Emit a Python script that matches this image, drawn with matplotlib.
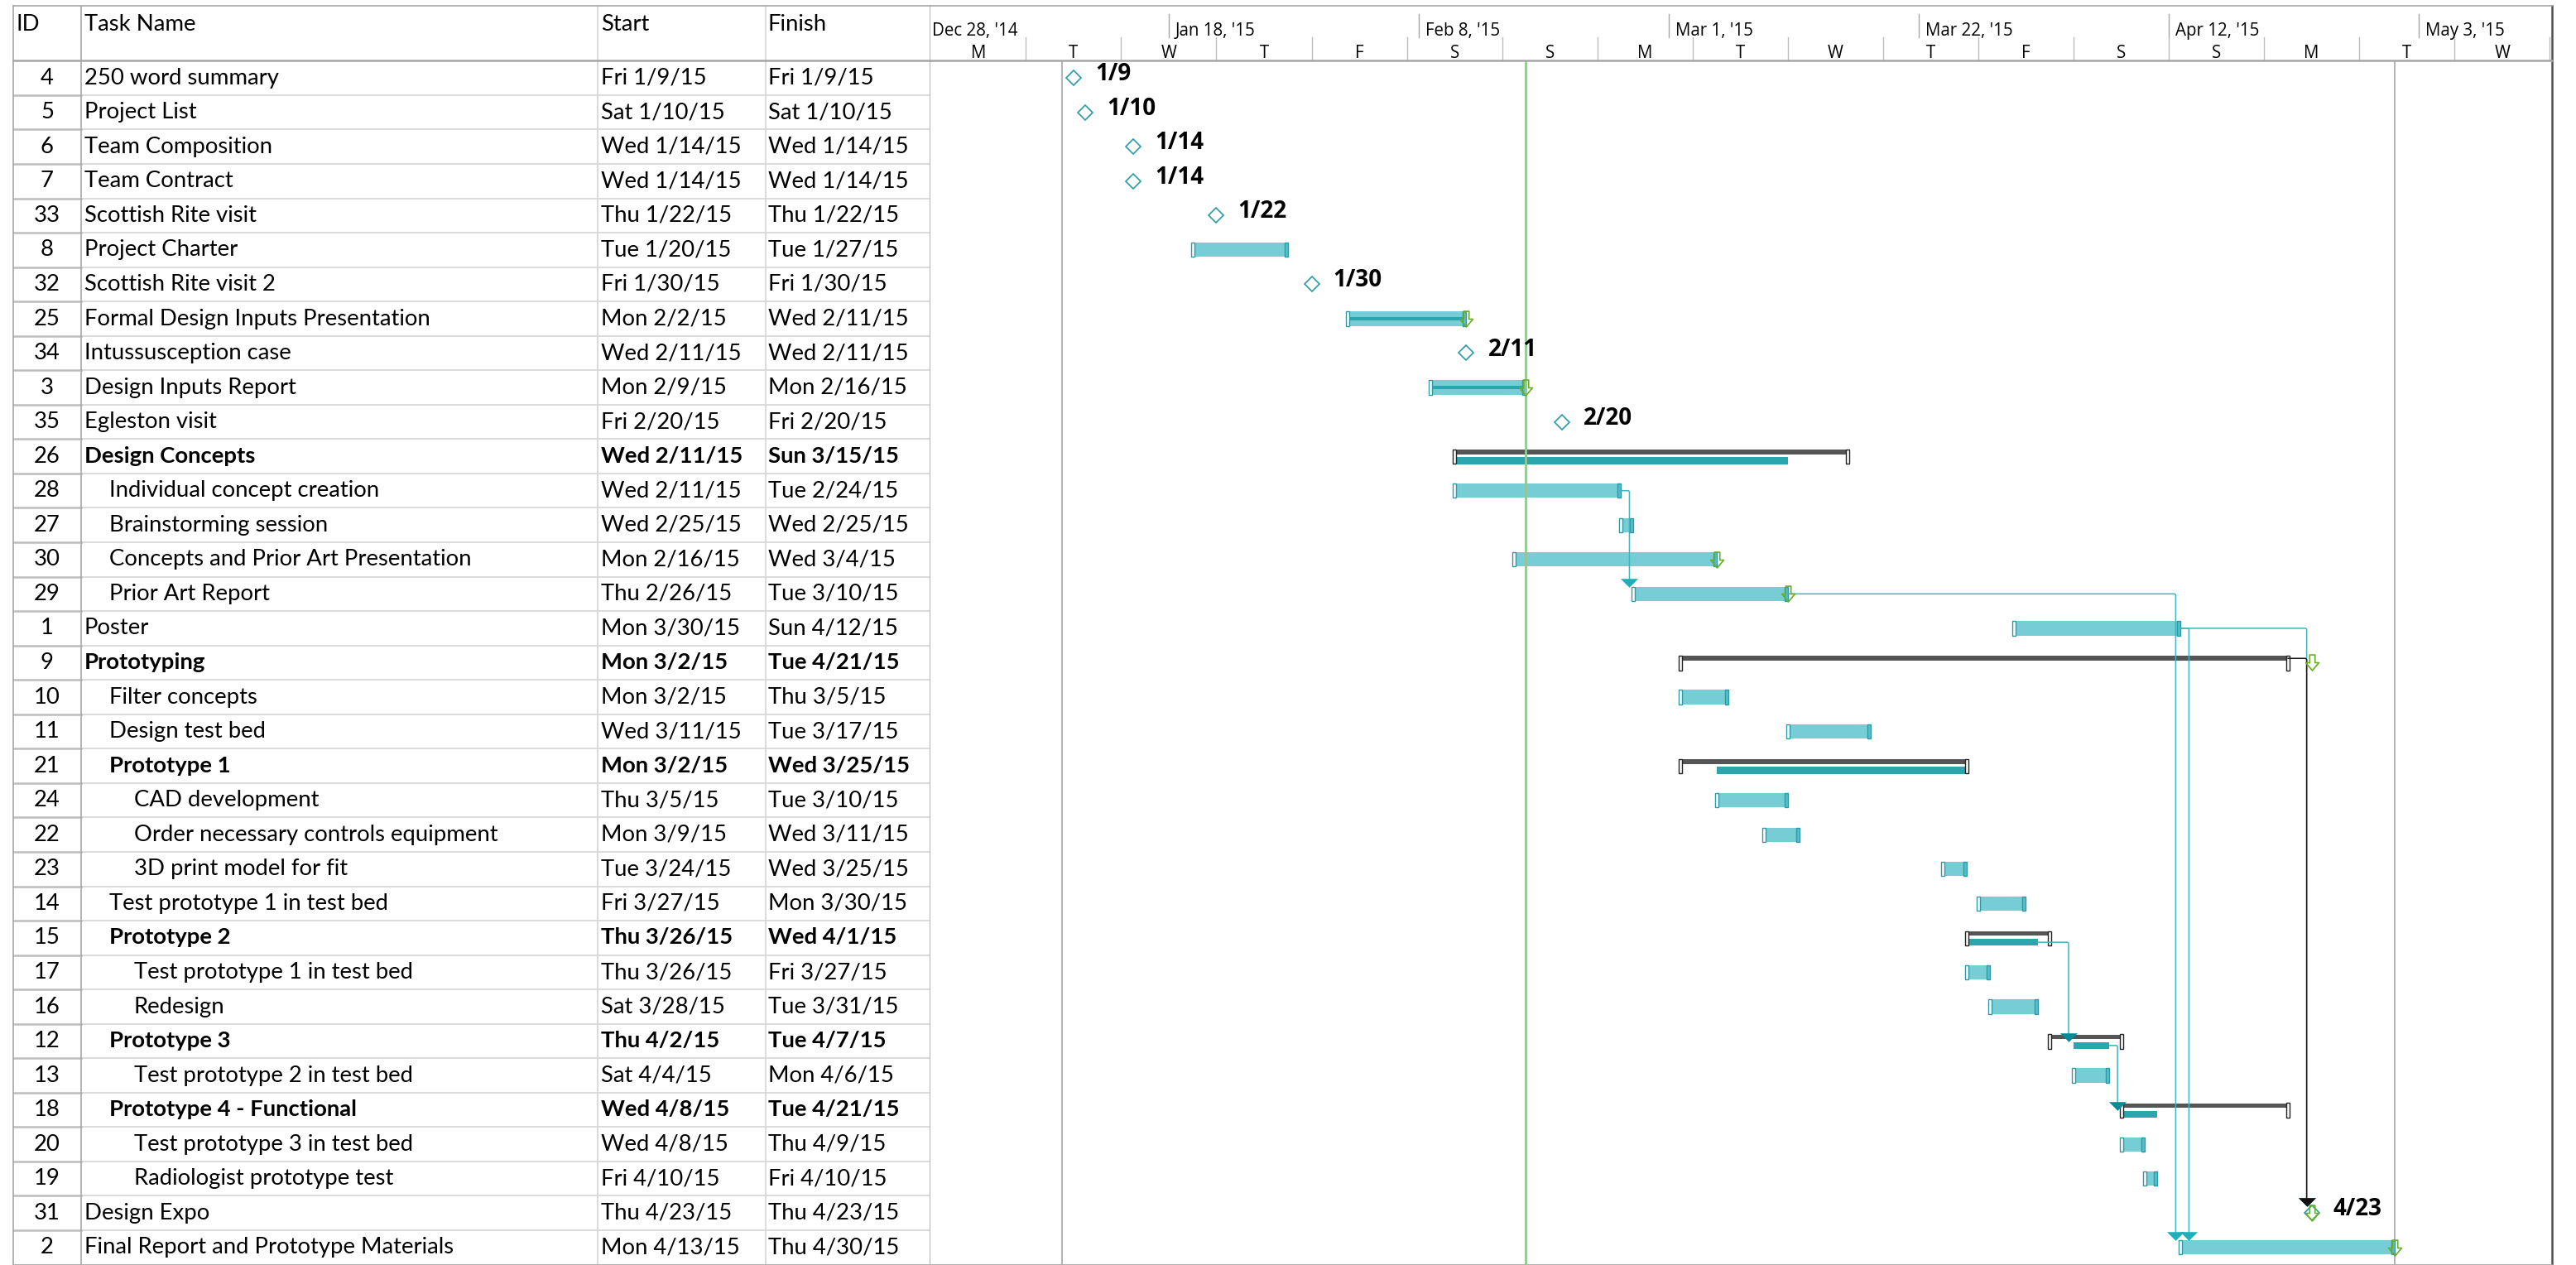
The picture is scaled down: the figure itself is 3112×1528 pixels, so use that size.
import datetime as dt

import matplotlib
matplotlib.use("Agg")
from matplotlib import pyplot as plt
import matplotlib.dates as mdates
from matplotlib.patches import FancyArrowPatch
from matplotlib.path import Path

# ---- task table (as shown in the view) ----
ids = [4, 5, 6, 7, 33, 8, 32, 25, 34, 3, 35, 26, 28, 27, 30, 29, 1, 9, 10, 11,
       21, 24, 22, 23, 14, 15, 17, 16, 12, 13, 18, 20, 19, 31, 2]
names = ["250 word summary", "Project List", "Team Composition", "Team Contract",
         "Scottish Rite visit", "Project Charter", "Scottish Rite visit 2",
         "Formal Design Inputs Presentation", "Intussusception case",
         "Design Inputs Report", "Egleston visit", "Design Concepts",
         "Individual concept creation", "Brainstorming session",
         "Concepts and Prior Art Presentation", "Prior Art Report", "Poster",
         "Prototyping", "Filter concepts", "Design test bed", "Prototype 1",
         "CAD development", "Order necessary controls equipment",
         "3D print model for fit", "Test prototype 1 in test bed", "Prototype 2",
         "Test prototype 1 in test bed", "Redesign", "Prototype 3",
         "Test prototype 2 in test bed", "Prototype 4 - Functional",
         "Test prototype 3 in test bed", "Radiologist prototype test",
         "Design Expo", "Final Report and Prototype Materials"]
levels = [0, 0, 0, 0, 0, 0, 0, 0, 0, 0, 0,
          0, 1, 1, 1, 1, 0,
          0, 1, 1, 1, 2, 2, 2, 1, 1, 2, 2, 1, 2, 1, 2, 2,
          0, 0]
starts = ["Fri 1/9/15", "Sat 1/10/15", "Wed 1/14/15", "Wed 1/14/15", "Thu 1/22/15",
          "Tue 1/20/15", "Fri 1/30/15", "Mon 2/2/15", "Wed 2/11/15", "Mon 2/9/15",
          "Fri 2/20/15", "Wed 2/11/15", "Wed 2/11/15", "Wed 2/25/15", "Mon 2/16/15",
          "Thu 2/26/15", "Mon 3/30/15", "Mon 3/2/15", "Mon 3/2/15", "Wed 3/11/15",
          "Mon 3/2/15", "Thu 3/5/15", "Mon 3/9/15", "Tue 3/24/15", "Fri 3/27/15",
          "Thu 3/26/15", "Thu 3/26/15", "Sat 3/28/15", "Thu 4/2/15", "Sat 4/4/15",
          "Wed 4/8/15", "Wed 4/8/15", "Fri 4/10/15", "Thu 4/23/15", "Mon 4/13/15"]
finishes = ["Fri 1/9/15", "Sat 1/10/15", "Wed 1/14/15", "Wed 1/14/15", "Thu 1/22/15",
            "Tue 1/27/15", "Fri 1/30/15", "Wed 2/11/15", "Wed 2/11/15", "Mon 2/16/15",
            "Fri 2/20/15", "Sun 3/15/15", "Tue 2/24/15", "Wed 2/25/15", "Wed 3/4/15",
            "Tue 3/10/15", "Sun 4/12/15", "Tue 4/21/15", "Thu 3/5/15", "Tue 3/17/15",
            "Wed 3/25/15", "Tue 3/10/15", "Wed 3/11/15", "Wed 3/25/15", "Mon 3/30/15",
            "Wed 4/1/15", "Fri 3/27/15", "Tue 3/31/15", "Tue 4/7/15", "Mon 4/6/15",
            "Tue 4/21/15", "Thu 4/9/15", "Fri 4/10/15", "Thu 4/23/15", "Thu 4/30/15"]

# milestone rows -> where the diamond sits on the timeline
milestone_marks = {0: "1/10/15", 1: "1/11/15", 2: "1/15/15", 3: "1/15/15",
                   4: "1/22/15", 6: "1/30/15", 8: "2/12/15", 10: "2/20/15",
                   33: "4/24/15"}
# deadlines (green arrows), drawn at end of the day
deadlines = {7: "2/11/15", 9: "2/16/15", 14: "3/4/15", 15: "3/10/15",
             17: "4/23/15", 33: "4/23/15", 34: "4/30/15"}
pct_complete = {7: 100, 9: 100}
no_rollup = ["Prototyping"]
# predecessor row -> successor row
links = [(12, 15), (15, 34), (16, 34), (16, 33), (17, 33), (25, 28), (28, 30)]

status_date = "2/16/15"
top_tier_start = "12/28/14"   # every 3 weeks
bottom_tier_start = "12/29/14"  # every 8 days
view_start = "12/29/14"
view_days = 136.21

# ---- layout (pixels of the 3112x1528 canvas) ----
W, H, DPI = 3112, 1528, 200
TOP, HEAD_B, BOT = 7.3, 73.3, 1527.6
LEFT, SPLIT, RIGHT = 16, 1124.3, 3083.3
col_x = [LEFT, 98, 722, 925]
n = len(names)
ROW_PX = (BOT - HEAD_B) / n
PX_DAY = (RIGHT - SPLIT) / view_days

TEAL = "#76CDD5"
TEAL_DARK = "#2CA6AE"
CAP_EDGE = "#2A9AA5"
LINK = "#3DB4BE"
GREEN = "#6AAE24"
GREY = "#A6A6A6"

table_font = "Lato"
head_font = "Open Sans"


def parse(s):
    return dt.datetime.strptime(s.split()[-1], "%m/%d/%y")


def num(s):
    return mdates.date2num(parse(s))


def rows(px):
    return px / ROW_PX


def days(px):
    return px / PX_DAY


x0 = [num(s) for s in starts]
x1 = [num(s) + 1 for s in finishes]
summary = [i < n - 1 and levels[i + 1] > levels[i] for i in range(n)]

# roll-up span of children for summary rows
rollup = {}
for i in range(n):
    if summary[i] and names[i] not in no_rollup:
        j = i + 1
        kids = []
        while j < n and levels[j] > levels[i]:
            kids.append(j)
            j += 1
        rollup[i] = (min(x0[k] for k in kids), max(x1[k] for k in kids))

fig = plt.figure(figsize=(W / DPI, H / DPI), dpi=DPI)


def box(xa, ya, xb, yb):
    return [xa / W, 1 - yb / H, (xb - xa) / W, (yb - ya) / H]


tab = fig.add_axes(box(LEFT, HEAD_B, SPLIT, BOT))
gan = fig.add_axes(box(SPLIT, HEAD_B, RIGHT, BOT))
thd = fig.add_axes(box(LEFT, TOP, SPLIT, HEAD_B))
ghd = fig.add_axes(box(SPLIT, TOP, RIGHT, HEAD_B))

v0 = num(view_start)
v1 = v0 + view_days
for ax in (tab, thd):
    ax.set_xlim(LEFT, SPLIT)
for ax in (gan, ghd):
    ax.set_xlim(v0, v1)
for ax in (tab, gan):
    ax.set_ylim(n - 0.5, -0.5)
for ax in (thd, ghd):
    ax.set_ylim(HEAD_B, TOP)
for ax in (tab, gan, thd, ghd):
    ax.set_xticks([])
    ax.set_yticks([])
    for sp in ax.spines.values():
        sp.set_color(GREY)
        sp.set_linewidth(0.6)
gan.spines["left"].set_visible(False)
ghd.spines["left"].set_visible(False)
for ax in (gan, ghd):
    ax.spines["right"].set_color("#505050")
    ax.spines["right"].set_linewidth(0.9)
for ax in (thd, ghd):
    ax.spines["bottom"].set_linewidth(0.9)

# ---- table ----
for i in range(1, n):
    tab.plot([col_x[1], SPLIT], [i - 0.5] * 2, color="#DCDCDC", lw=0.7)
    tab.plot([LEFT, col_x[1]], [i - 0.5] * 2, color="#BDBDBD", lw=0.9)
for ax in (tab, thd):
    ax.axvline(col_x[1], color="#A8A8A8", lw=0.6)
    ax.axvline(col_x[2], color="#D4D4D4", lw=0.6)
    ax.axvline(col_x[3], color="#D4D4D4", lw=0.6)

tsize = 9.9
for txt, x in zip(["ID", "Task Name", "Start", "Finish"], [19, 102, 726, 928]):
    thd.text(x, 36.7, txt, fontsize=tsize, family=table_font, va="baseline")

for i in range(n):
    wt = "bold" if summary[i] else "normal"
    y = i + rows(7.6)
    tab.text((col_x[0] + col_x[1]) / 2, y, str(ids[i]), ha="center", va="baseline",
             fontsize=tsize, family=table_font)
    tab.text(102 + 30 * levels[i], y, names[i], va="baseline", fontsize=tsize,
             family=table_font, weight=wt)
    tab.text(726, y, starts[i], va="baseline", fontsize=tsize, family=table_font, weight=wt)
    tab.text(928, y, finishes[i], va="baseline", fontsize=tsize, family=table_font, weight=wt)

# ---- timescale ----
d = num(top_tier_start)
while d < v1:
    ghd.plot([d, d], [16.7, 45], color=GREY, lw=0.5, clip_on=True)
    lab = mdates.num2date(d)
    ghd.text(max(d + days(8), v0 + days(2)), 43, f"{lab:%b} {lab.day}, '{lab:%y}",
             fontsize=7.4, family=head_font, va="baseline", clip_on=True)
    d += 21
d = num(bottom_tier_start)
while d < v1:
    if d > v0:
        ghd.plot([d, d], [45, HEAD_B], color="#BDBDBD", lw=0.5)
    if d + 4 < v1:
        ghd.text(d + 4, 70, "MTWTFSS"[mdates.num2date(d).weekday()], ha="center",
                 va="baseline", fontsize=7.4, family=head_font)
    d += 8

# ---- gantt ----
gan.axvline(min(x0), color=GREY, lw=0.6, zorder=1)
gan.axvline(max(x1), color=GREY, lw=0.6, zorder=1)
gan.axvline(num(status_date) + 1, color="#93C793", lw=1.0, zorder=6)

BAR_H = rows(17.3)
CAP = days(4)
for i in range(n):
    if i in milestone_marks:
        continue
    if summary[i]:
        gan.barh(i - rows(5.2), x1[i] - x0[i], left=x0[i], height=rows(5.6),
                 color="#555555", zorder=3)
        if i in rollup:
            r0, r1 = rollup[i]
            gan.barh(i + rows(5.3), r1 - r0, left=r0, height=rows(8.6),
                     color=TEAL_DARK, zorder=3)
        for cx in (x0[i], x1[i]):
            gan.barh(i + rows(0.5), CAP, left=cx - CAP / 2, height=rows(17.7),
                     color="white", edgecolor="#222222", lw=0.5, zorder=4)
    else:
        gan.barh(i, x1[i] - x0[i], left=x0[i], height=BAR_H, color=TEAL, zorder=3)
        if i in pct_complete:
            gan.barh(i, (x1[i] - x0[i]) * pct_complete[i] / 100, left=x0[i],
                     height=rows(4.6), color=TEAL_DARK, zorder=3)
        gan.barh(i, CAP, left=x0[i] - CAP / 2, height=BAR_H, color="white",
                 edgecolor=CAP_EDGE, lw=0.5, zorder=4)
        gan.barh(i, CAP, left=x1[i] - CAP, height=BAR_H, color="#5CBFC8",
                 edgecolor=CAP_EDGE, lw=0.5, zorder=4)

# links
head = Path([(-0.5, 0.25), (0.5, 0.25), (0.0, -0.25), (-0.5, 0.25)],
            [Path.MOVETO, Path.LINETO, Path.LINETO, Path.CLOSEPOLY])
for a, b in links:
    if a in rollup:
        xa, ya = rollup[a][1], a + rows(5.3)
    elif summary[a]:
        xa, ya = x1[a], a - rows(5.2)
    else:
        xa, ya = x1[a], a
    if b in rollup:
        xb_start, yb = rollup[b][0], b
    elif b in milestone_marks:
        xb_start, yb = num(milestone_marks[b]), b - rows(8.7)
    else:
        xb_start, yb = x0[b], b - BAR_H / 2
    xt = max(xb_start - days(6), xa + days(10))
    if summary[a] and a not in rollup:
        lc, hc, z = "#1A1A1A", "#111111", 7
    elif b in rollup:
        lc, hc, z = LINK, "#078C96", 5
    else:
        lc, hc, z = LINK, "#1FAFBA", 5
    gan.add_patch(FancyArrowPatch((xa, ya), (xt, yb - rows(4)), arrowstyle="-",
                                  connectionstyle="angle,angleA=0,angleB=90,rad=2",
                                  shrinkA=0, shrinkB=0, color=lc, lw=0.55, zorder=z))
    gan.plot(xt, yb - rows(5), marker=head, ms=7.6, color=hc, mew=0, zorder=z + 0.5)

# milestones
for i, mark in milestone_marks.items():
    mx = num(mark)
    gan.plot(mx, i, marker="D", ms=4.6, mfc="white", mec=CAP_EDGE, mew=0.6, zorder=8)
    f = parse(finishes[i])
    gan.annotate(f"{f.month}/{f.day}", (mx, i), xytext=(9.4, -1.1),
                 textcoords="offset points", va="baseline", fontsize=10,
                 family=head_font, weight="bold", zorder=9)

# deadlines
arrow = Path([(-0.17, 0.5), (0.17, 0.5), (0.17, 0.0), (0.42, 0.0), (0.0, -0.5),
              (-0.42, 0.0), (-0.17, 0.0), (-0.17, 0.5)],
             [Path.MOVETO] + [Path.LINETO] * 6 + [Path.CLOSEPOLY])
for i, dl in deadlines.items():
    gan.plot(num(dl) + 1, i, marker=arrow, ms=6.8, mfc="none", mec=GREEN, mew=0.6,
             zorder=9)

fig.savefig("out.png", dpi=DPI, facecolor="white")
